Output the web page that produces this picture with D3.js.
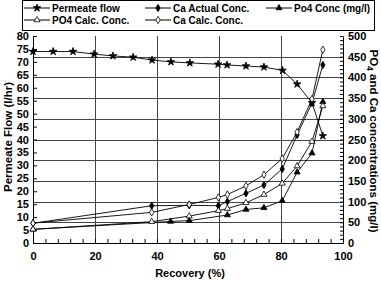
<!DOCTYPE html>
<html>
<head>
<meta charset="utf-8">
<script src="https://cdn.jsdelivr.net/npm/d3@7"></script>
<style>
  body { margin: 0; background: #fff; }
  text { font-family: "Liberation Sans", Arial, sans-serif; font-weight: bold; fill: #000; }
</style>
</head>
<body>
<script>
// recovery (%) for each series
var flowX = [0, 6.5, 12.9, 19.7, 25.8, 32.3, 38.4, 44.5, 50.6, 59.7, 62.6, 68.7, 74.5, 80.5, 85.2, 90, 93.5];
var flowY = [74, 74, 74, 73, 72.3, 71.8, 70.7, 70, 69.6, 69.1, 68.8, 68.4, 68, 66.7, 61.4, 54.2, 41.4];

var concX = [0, 38.3, 50.4, 59.8, 62.7, 68.7, 74.5, 80.4, 85.2, 90, 93.5];
var caActual = [47.6, 90, 91, 90, 100, 120, 140, 179, 261, 338, 430];
var caCalc = [48, 74, 93, 110, 117, 138, 165, 204, 268, 348, 467];
var po4Calc = [33, 51.5, 65, 78, 83, 97, 117, 144, 186, 245, 331];

var po4X = [0, 44.4, 50.4, 62.7, 68.7, 74.5, 80.4, 85.2, 90, 93.5];
var po4Conc = [33, 52, 54, 67.6, 81, 85, 102, 171, 217, 341];

var width = 381,
  height = 282,
  plotLeft = 33,
  plotRight = 343,
  plotTop = 36,
  plotBottom = 243;

var svg = d3
  .select("body")
  .append("svg")
  .attr("width", width)
  .attr("height", height);

var x = d3.scaleLinear().domain([0, 100]).range([plotLeft, plotRight]);
var yL = d3.scaleLinear().domain([0, 80]).range([plotBottom, plotTop]);
var yR = d3.scaleLinear().domain([0, 500]).range([plotBottom, plotTop]);

// grid
svg
  .append("g")
  .selectAll("line")
  .data(d3.range(50, 500, 50))
  .enter()
  .append("line")
  .attr("x1", plotLeft)
  .attr("x2", plotRight)
  .attr("y1", (d) => Math.round(yR(d)) + 0.5)
  .attr("y2", (d) => Math.round(yR(d)) + 0.5)
  .attr("stroke", "#444");

svg
  .append("g")
  .selectAll("line")
  .data([20, 40, 60, 80])
  .enter()
  .append("line")
  .attr("x1", (d) => Math.round(x(d)) + 0.5)
  .attr("x2", (d) => Math.round(x(d)) + 0.5)
  .attr("y1", plotTop)
  .attr("y2", plotBottom)
  .attr("stroke", "#444");

// axes
var xAxis = d3.axisBottom(x).tickValues(d3.range(0, 101, 20)).tickSize(0).tickPadding(9);
var xMinor = d3.axisTop(x).tickValues(d3.range(0, 101, 4)).tickSize(4).tickFormat("");
var yAxisL = d3.axisLeft(yL).tickValues(d3.range(0, 81, 5)).tickSize(0).tickPadding(4);
var yTickL = d3.axisRight(yL).tickValues(d3.range(0, 81, 5)).tickSize(4).tickFormat("");
var yAxisR = d3.axisRight(yR).tickValues(d3.range(0, 501, 50)).tickSize(0).tickPadding(5);
var yTickR = d3.axisLeft(yR).tickValues(d3.range(0, 501, 10)).tickSize(3).tickFormat("");

function styleAxis(g) {
  g.selectAll("path").attr("stroke", "#000");
  g.selectAll("line").attr("stroke", "#000");
  g.selectAll("text").attr("font-size", 11).attr("font-family", null);
}

svg.append("g").attr("transform", `translate(0,${plotBottom})`).call(xAxis).call(styleAxis);
svg.append("g").attr("transform", `translate(0,${plotBottom})`).call(xMinor).call(styleAxis)
  .select(".domain").remove();
svg.append("g").attr("transform", `translate(${plotLeft},0)`).call(yAxisL).call(styleAxis);
svg.append("g").attr("transform", `translate(${plotLeft},0)`).call(yTickL).call(styleAxis)
  .select(".domain").remove();
svg.append("g").attr("transform", `translate(${plotRight},0)`).call(yAxisR).call(styleAxis);
svg.append("g").attr("transform", `translate(${plotRight},0)`).call(yTickR).call(styleAxis)
  .select(".domain").remove();

// axis titles
svg
  .append("text")
  .attr("x", 190)
  .attr("y", 277)
  .attr("text-anchor", "middle")
  .attr("font-size", 11)
  .text("Recovery (%)");

svg
  .append("text")
  .attr("transform", "translate(12,137) rotate(-90)")
  .attr("text-anchor", "middle")
  .attr("font-size", 11.5)
  .text("Permeate Flow (l/hr)");

var rTitle = svg
  .append("text")
  .attr("transform", "translate(370,141) rotate(90)")
  .attr("text-anchor", "middle")
  .attr("font-size", 11.5);
rTitle.append("tspan").text("PO");
rTitle.append("tspan").attr("dy", 3).attr("font-size", 8.5).text("4");
rTitle.append("tspan").attr("dy", -3).text(" and Ca concentrations (mg/l)");

// series
var series = [
  { name: "Permeate flow", xs: flowX, ys: flowY, y: yL, sym: d3.symbolStar, size: 18, fill: "#000" },
  { name: "Ca Actual Conc.", xs: concX, ys: caActual, y: yR, sym: d3.symbolDiamond, size: 16, fill: "#000" },
  { name: "Po4 Conc (mg/l)", xs: po4X, ys: po4Conc, y: yR, sym: d3.symbolTriangle, size: 16, fill: "#000" },
  { name: "PO4 Calc. Conc.", xs: concX, ys: po4Calc, y: yR, sym: d3.symbolTriangle, size: 16, fill: "#fff" },
  { name: "Ca Calc. Conc.", xs: concX, ys: caCalc, y: yR, sym: d3.symbolDiamond, size: 16, fill: "#fff" }
];

series.forEach((s) => {
  var pts = s.xs.map((v, i) => [x(v), s.y(s.ys[i])]);
  svg
    .append("path")
    .attr("d", d3.line()(pts))
    .attr("fill", "none")
    .attr("stroke", "#000")
    .attr("stroke-width", 0.9);
  svg
    .append("g")
    .selectAll("path")
    .data(pts)
    .enter()
    .append("path")
    .attr("transform", (d) => `translate(${d[0]},${d[1]})`)
    .attr("d", d3.symbol().type(s.sym).size(s.size))
    .attr("fill", s.fill)
    .attr("stroke", "#000")
    .attr("stroke-width", 0.8);
});

// legend
var legend = svg.append("g");
legend
  .append("rect")
  .attr("x", 22.5)
  .attr("y", 0.5)
  .attr("width", 352)
  .attr("height", 30)
  .attr("fill", "#fff")
  .attr("stroke", "#000");

var legendPos = [
  [24, 8], [145, 8], [266, 8],
  [24, 20], [145, 20]
];

series.forEach((s, i) => {
  var p = legendPos[i];
  var item = legend.append("g").attr("transform", `translate(${p[0]},${p[1]})`);
  item.append("line").attr("x1", 0).attr("x2", 26).attr("stroke", "#000");
  item
    .append("path")
    .attr("transform", "translate(13,0)")
    .attr("d", d3.symbol().type(s.sym).size(s.size))
    .attr("fill", s.fill)
    .attr("stroke", "#000")
    .attr("stroke-width", 0.8);
  item
    .append("text")
    .attr("x", 28)
    .attr("y", 3.5)
    .attr("font-size", 10)
    .text(s.name);
});
</script>
</body>
</html>
